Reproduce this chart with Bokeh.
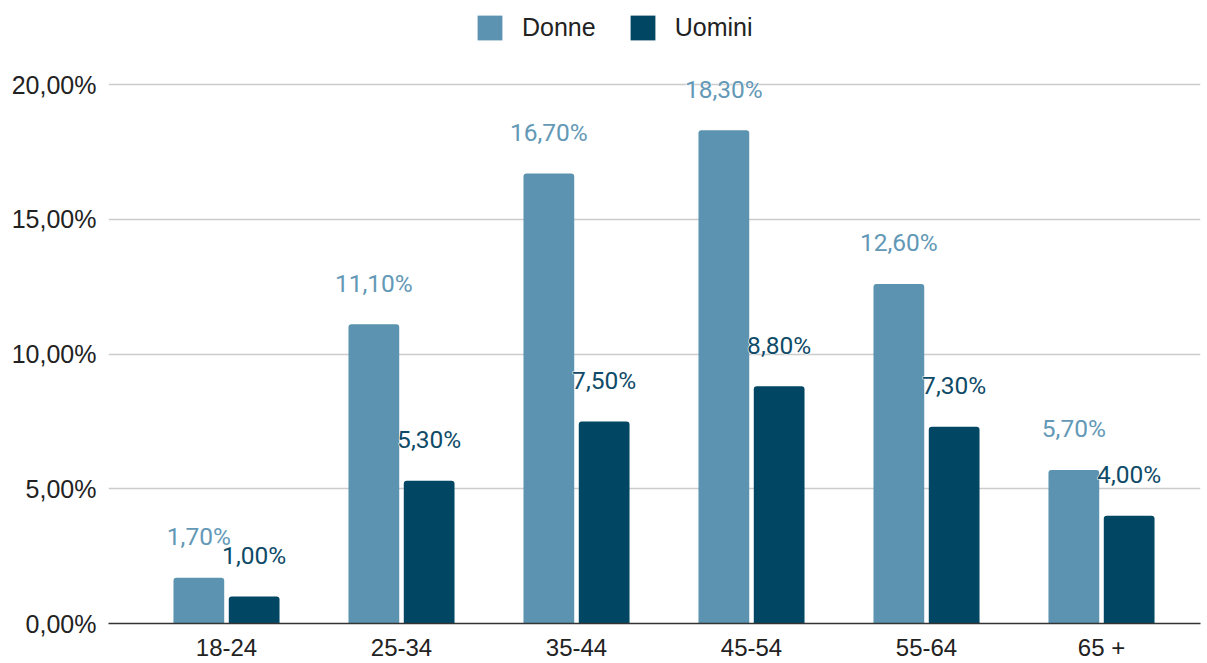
from bokeh.plotting import figure
from bokeh.models import (ColumnDataSource, Range1d, FixedTicker, Legend, LegendItem)
from bokeh.core.properties import value
from bokeh.embed import file_html
from bokeh.resources import INLINE

categories = ["18-24", "25-34", "35-44", "45-54", "55-64", "65 +"]
donne = [0.017, 0.111, 0.167, 0.183, 0.126, 0.057]
uomini = [0.010, 0.053, 0.075, 0.088, 0.073, 0.040]
donne_labels = ["1,70%", "11,10%", "16,70%", "18,30%", "12,60%", "5,70%"]
uomini_labels = ["1,00%", "5,30%", "7,50%", "8,80%", "7,30%", "4,00%"]
y_ticks = [0.0, 0.05, 0.10, 0.15, 0.20]
y_tick_labels = ["0,00%", "5,00%", "10,00%", "15,00%", "20,00%"]

C_DONNE = "#5b93b0"
C_UOMINI = "#014764"
C_DONNE_TXT = "#6399b6"
C_UOMINI_TXT = "#0f4b68"

xs = list(range(len(categories)))
src = ColumnDataSource(dict(
    x=xs,
    xd=[x - 0.158 for x in xs],
    xu=[x + 0.158 for x in xs],
    donne=donne, uomini=uomini,
    dl=donne_labels, ul=uomini_labels,
))

p = figure(width=1207, height=663, output_backend="svg", toolbar_location=None,
           x_range=Range1d(-0.6743, 5.5657), y_range=Range1d(0, 0.23117),
           min_border_left=108, min_border_right=7, min_border_top=0, min_border_bottom=30)
p.outline_line_color = None
p.xgrid.visible = False
p.ygrid.grid_line_color = "#cccccc"
p.ygrid.grid_line_width = 1.5
p.ygrid.ticker = FixedTicker(ticks=y_ticks)

rd = p.vbar(x="xd", top="donne", width=0.29, source=src, fill_color=C_DONNE,
            line_color=None, border_radius=(3, 3, 0, 0))
ru = p.vbar(x="xu", top="uomini", width=0.29, source=src, fill_color=C_UOMINI,
            line_color=None, border_radius=(3, 3, 0, 0))

# white halo under the data labels
for xcol, ycol, tcol, col in (("xd", "donne", "dl", C_DONNE_TXT), ("xu", "uomini", "ul", C_UOMINI_TXT)):
    p.text(x=xcol, y=ycol, text=tcol, source=src, y_offset=-41,
           text_align="center", text_baseline="middle", text_font=value("Roboto"),
           text_font_size="24.5px", text_color="white", text_outline_color="white")
    p.text(x=xcol, y=ycol, text=tcol, source=src, y_offset=-41,
           text_align="center", text_baseline="middle", text_font=value("Roboto"),
           text_font_size="24.5px", text_color=col)

# axes
p.yaxis.ticker = FixedTicker(ticks=y_ticks)
p.yaxis.major_label_overrides = {t: l for t, l in zip(y_ticks, y_tick_labels)}
p.yaxis.axis_line_color = None
p.yaxis.major_tick_line_color = None
p.yaxis.minor_tick_line_color = None
p.yaxis.major_tick_out = 0
p.yaxis.major_tick_in = 0
p.yaxis.major_label_standoff = 12
p.yaxis.major_label_text_font = "Liberation Sans"
p.yaxis.major_label_text_font_size = "25px"
p.yaxis.major_label_text_color = "#222222"

p.xaxis.ticker = FixedTicker(ticks=xs)
p.xaxis.major_label_overrides = {i: c for i, c in enumerate(categories)}
p.xaxis.axis_line_color = "#333333"
p.xaxis.axis_line_width = 1.5
p.xaxis.major_tick_line_color = None
p.xaxis.minor_tick_line_color = None
p.xaxis.major_tick_out = 0
p.xaxis.major_tick_in = 0
p.xaxis.major_label_standoff = 10
p.xaxis.major_label_text_font = "Liberation Sans"
p.xaxis.major_label_text_font_size = "24px"
p.xaxis.major_label_text_color = "#222222"

legend = Legend(items=[LegendItem(label="Donne", renderers=[rd]),
                       LegendItem(label="Uomini", renderers=[ru])],
                orientation="horizontal", location=(366, 580),
                glyph_width=31, glyph_height=31, label_height=31,
                label_standoff=17, spacing=31, padding=0, margin=0,
                border_line_color=None, background_fill_alpha=0,
                label_text_font="Liberation Sans", label_text_font_size="25px",
                label_text_color="#222222", label_text_baseline="middle")
p.add_layout(legend)

open("out.html", "w").write(file_html(p, INLINE))
